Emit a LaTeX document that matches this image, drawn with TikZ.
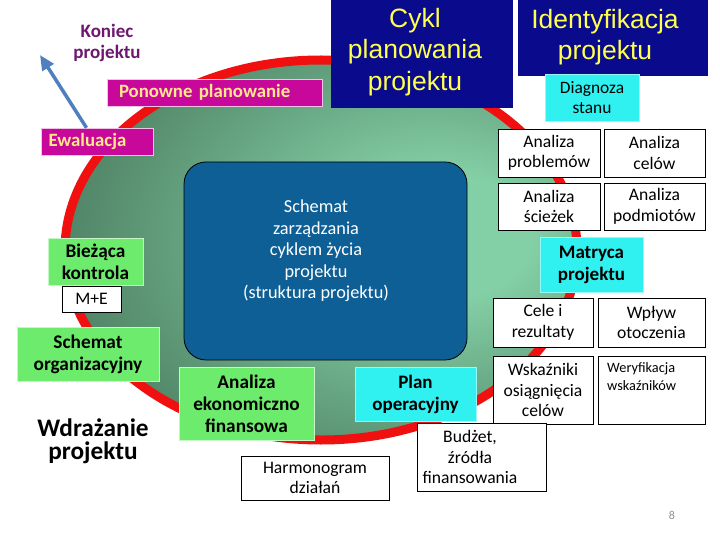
\documentclass[tikz,border=0pt]{standalone}
\usepackage{fontspec}
\setmainfont{Carlito}
\newfontfamily\titlefont{Liberation Sans}
\usetikzlibrary{arrows.meta}
\definecolor{navybg}{HTML}{0A0A8C}
\definecolor{titleyellow}{HTML}{FFFF50}
\definecolor{cyanbg}{HTML}{30F0F0}
\definecolor{greenbg}{HTML}{6CEB6C}
\definecolor{magbg}{HTML}{C8089A}
\definecolor{creamtext}{HTML}{FFE88A}
\definecolor{purpletext}{HTML}{6E1670}
\definecolor{schemeblue}{HTML}{0E5F95}
\definecolor{ringred}{HTML}{F01010}
\definecolor{ringlight}{HTML}{84D0A6}
\definecolor{ringmid}{HTML}{5E9877}
\definecolor{ringdark}{HTML}{3A654C}
\definecolor{arrowblue}{HTML}{4F7FBF}
\definecolor{pagegray}{HTML}{909090}
\pgfdeclareradialshading{ringshade}{\pgfpoint{14bp}{2bp}}{color(0bp)=(ringlight); color(8bp)=(ringlight); color(26bp)=(ringmid); color(44bp)=(ringdark); color(70bp)=(ringdark)}
\begin{document}
\begin{tikzpicture}[x=1pt,y=-1pt,
                    every node/.style={inner sep=0pt,align=center},
                    title/.style={fill=navybg,text=titleyellow,font=\titlefont\fontsize{26.5}{31.5}\selectfont},
                    wbox/.style={draw=black,line width=0.8pt,fill=white,font=\fontsize{17.6}{20.5}\selectfont},
                    cbox/.style={fill=cyanbg,draw=cyanbg!50!white,font=\bfseries\fontsize{19}{22}\selectfont},
                    gbox/.style={fill=greenbg,draw=greenbg!40!white,font=\bfseries\fontsize{19.3}{22}\selectfont},
                    mbox/.style={fill=magbg,draw=magbg!25!white,text=creamtext,align=left,font=\bfseries\fontsize{18.8}{20}\selectfont},
                    exitarrow/.style={-{Triangle[length=15pt,width=13pt]},line width=3.5pt,draw=arrowblue}]
  \fill[white] (0,0) rectangle (720,540);
  \useasboundingbox (0,0) rectangle (720,540);

  \shade[draw=ringred,line width=9pt,shading=ringshade] (321,250) ellipse [x radius=256pt,y radius=190pt];

  \node[draw=black,line width=0.8pt,fill=schemeblue,rounded corners=22pt,minimum width=283pt,minimum height=198pt] (schemat) at (325.5,261) {};
  \node[text=white,font=\fontsize{18.3}{21.5}\selectfont] (schemattxt) at (316,251) {Schemat\\zarządzania\\cyklem życia\\projektu\\(struktura projektu)};

  \node[title,minimum width=182pt,minimum height=108pt] (cykl) at (422,54) {};
  \node[title,fill=none] (cykltxt) at (415,52) {Cykl\\planowania\\projektu};
  \node[title,minimum width=190pt,minimum height=76pt] (ident) at (613,38) {};
  \node[title,fill=none] (identtxt) at (605,37) {Identyfikacja\\projektu};
  \node[cbox,font=\fontsize{17.4}{20.5}\selectfont,minimum width=94pt,minimum height=47pt] (diag) at (592,97.5) {Diagnoza\\stanu};

  \node[wbox,minimum width=102pt,minimum height=48pt] (aprob) at (549,153) {Analiza\\problemów};
  \node[wbox,minimum width=101pt,minimum height=48pt] (acel) at (654.5,153) {Analiza\\celów};
  \node[wbox,minimum width=102pt,minimum height=47pt] (asciez) at (549,206.5) {Analiza\\ścieżek};
  \node[wbox,minimum width=101pt,minimum height=47pt] (apodm) at (654.5,206.5) {Analiza\\podmiotów};
  \node[cbox,minimum width=103pt,minimum height=55pt] (matryca) at (591.5,264.5) {Matryca\\projektu};
  \node[wbox,minimum width=100pt,minimum height=49pt] (cele) at (543,322.5) {Cele i\\rezultaty};
  \node[wbox,minimum width=107pt,minimum height=49pt] (wplyw) at (651.5,322.5) {Wpływ\\otoczenia};
  \node[wbox,minimum width=100pt,minimum height=68pt] (wskaz) at (543,390) {Wskaźniki\\osiągnięcia\\celów};
  \node[wbox,minimum width=107pt,minimum height=68pt] (wery) at (651.5,390) {};
  \node[align=left,font=\fontsize{14.3}{18}\selectfont,anchor=north west] (werytxt) at (607,362) {Weryfikacja\\wskaźników};
  \node[cbox,minimum width=121pt,minimum height=54pt] (plan) at (415.5,394) {Plan\\operacyjny};
  \node[wbox,minimum width=129pt,minimum height=68pt] (budzet) at (481.5,457) {};
  \node[font=\fontsize{17.6}{20.5}\selectfont] (budzettxt) at (470,457) {Budżet,\\źródła\\finansowania};
  \node[wbox,minimum width=148pt,minimum height=44pt] (harmo) at (315,478) {Harmonogram\\działań};
  \node[gbox,minimum width=135pt,minimum height=73pt] (anek) at (246.5,403.5) {Analiza\\ekonomiczno\\finansowa};

  \node[gbox,minimum width=142pt,minimum height=54pt] (schorg) at (88,354) {Schemat\\organizacyjny};
  \node[gbox,minimum width=95pt,minimum height=47pt] (biez) at (95.5,261.5) {Bieżąca\\kontrola};
  \node[wbox,minimum width=59pt,minimum height=26pt] (me) at (91.5,299) {M+E};
  \node[font=\bfseries\fontsize{25.3}{23.5}\selectfont] (wdraz) at (93,441) {Wdrażanie\\projektu};

  \node[mbox,text width=98pt,inner xsep=7pt,minimum height=27pt] (ewal) at (97.5,141.5) {Ewaluacja};
  \node[mbox,text width=191pt,inner xsep=12pt,minimum height=27pt] (ponow) at (214.5,92.5) {Ponowne planowanie};
  \node[text=purpletext,font=\bfseries\fontsize{19}{20.5}\selectfont] (koniec) at (107,43) {Koniec\\projektu};
  \coordinate (koniecend) at (40,55);
  \draw[exitarrow] ([xshift=-11pt]ewal.north) -- (koniecend);

  \node[text=pagegray,font=\fontsize{12}{12}\selectfont] (pagenum) at (672,515) {8};
\end{tikzpicture}
\end{document}
